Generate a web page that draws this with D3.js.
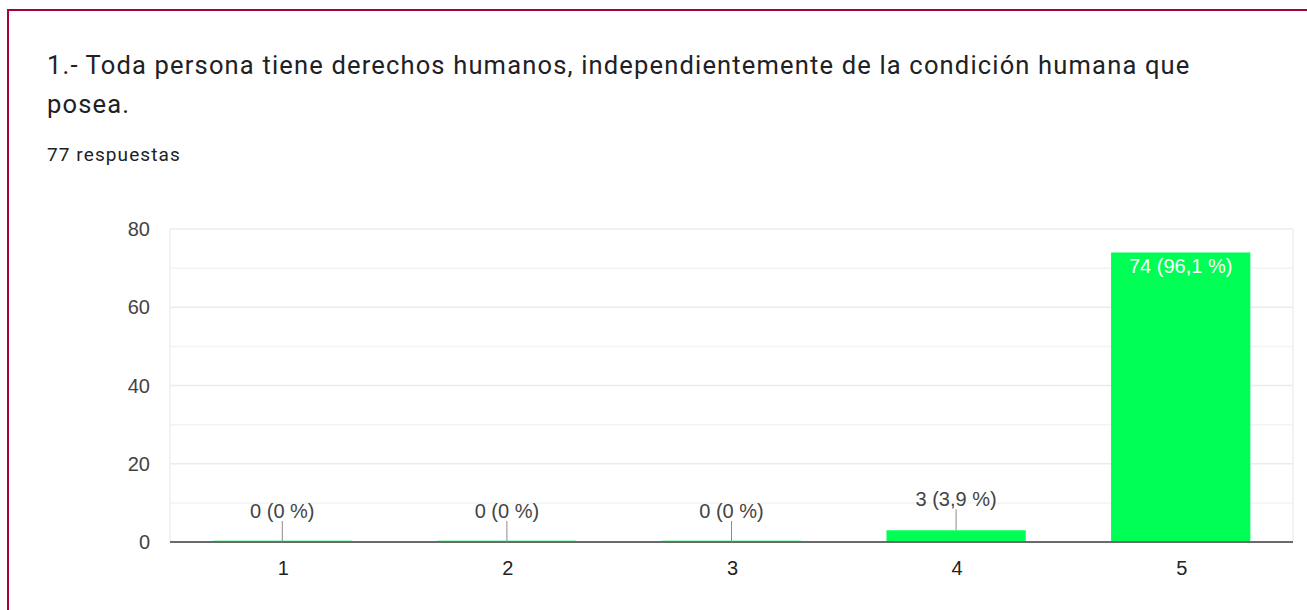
<!DOCTYPE html>
<html>
<head>
<meta charset="utf-8">
<script src="https://cdn.jsdelivr.net/npm/d3@7"></script>
<style>
  html, body { margin: 0; padding: 0; background: #fff; overflow: hidden; }
</style>
</head>
<body>
<div id="chart"></div>
<script>
(function(){
    /* data */
    const categories = ['1', '2', '3', '4', '5'];
    const counts = [0, 0, 0, 3, 74];
    const percents = ['0', '0', '0', '3,9', '96,1'];
    const yTicks = [0, 20, 40, 60, 80];
    const minorTicks = [10, 30, 50, 70];
    const titleLines = [
      '1.- Toda persona tiene derechos humanos, independientemente de la condición humana que',
      'posea.'
    ];
    const subtitle = '77 respuestas';

    /* configuration */
    const W = 1307, H = 610;
    const margin = ({top: 229, right: 14, bottom: 68, left: 170});
    const BAR_COLOR = '#00ff55';
    const LABEL_FONT = 'Liberation Sans, Arial, sans-serif';

    const svg = d3.select('#chart').append('svg')
      .attr('width', W)
      .attr('height', H);

    // card border (only top + left visible)
    svg.append('rect')
      .attr('x', 8).attr('y', 10)
      .attr('width', W + 20).attr('height', H + 20)
      .attr('fill', '#fff')
      .attr('stroke', '#a8003c')
      .attr('stroke-width', 2);

    // title
    svg.selectAll('.title')
      .data(titleLines)
      .join('text')
      .attr('class', 'title')
      .attr('x', 47)
      .attr('y', (d, i) => 74 + i * 39)
      .attr('font-family', 'Roboto, sans-serif')
      .attr('font-size', 25.5)
      .attr('letter-spacing', 1.17)
      .attr('fill', '#202124')
      .text(d => d);

    svg.append('text')
      .attr('x', 47).attr('y', 161)
      .attr('font-family', 'Roboto, sans-serif')
      .attr('font-size', 19)
      .attr('letter-spacing', 1.1)
      .attr('fill', '#202124')
      .text(subtitle);

    // scales
    const xScale = d3.scaleBand()
      .domain(categories)
      .range([margin.left, W - margin.right])
      .paddingInner(0.38)
      .paddingOuter(0.19);
    const yScale = d3.scaleLinear()
      .domain([0, 80])
      .range([H - margin.bottom, margin.top]);

    const x0 = margin.left, x1 = W - margin.right;

    // grid
    svg.selectAll('.minor')
      .data(minorTicks)
      .join('line')
      .attr('x1', x0).attr('x2', x1)
      .attr('y1', d => yScale(d)).attr('y2', d => yScale(d))
      .attr('stroke', '#f3f3f3').attr('stroke-width', 1.5);
    svg.selectAll('.major')
      .data(yTicks.filter(d => d > 0))
      .join('line')
      .attr('x1', x0).attr('x2', x1)
      .attr('y1', d => yScale(d)).attr('y2', d => yScale(d))
      .attr('stroke', '#ebebeb').attr('stroke-width', 1.5);
    // side frame
    [x0, x1].forEach(xx => {
      svg.append('line')
        .attr('x1', xx).attr('x2', xx)
        .attr('y1', yScale(80)).attr('y2', yScale(0))
        .attr('stroke', '#efefef').attr('stroke-width', 1.5);
    });

    // y labels
    svg.selectAll('.ylab')
      .data(yTicks)
      .join('text')
      .attr('x', 150)
      .attr('y', d => yScale(d) + 7)
      .attr('text-anchor', 'end')
      .attr('font-family', LABEL_FONT)
      .attr('font-size', 20)
      .attr('fill', '#444')
      .text(d => d);

    // bars
    const data = categories.map((c, i) => ({cat: c, v: counts[i], p: percents[i]}));
    svg.selectAll('.bar')
      .data(data)
      .join('rect')
      .attr('x', d => xScale(d.cat))
      .attr('width', xScale.bandwidth())
      .attr('y', d => Math.min(yScale(d.v), yScale(0) - 2))
      .attr('height', d => Math.max(yScale(0) - yScale(d.v), 2))
      .attr('fill', BAR_COLOR)
      .attr('opacity', d => d.v > 0 ? 1 : 0.3);

    // baseline
    svg.append('line')
      .attr('x1', x0).attr('x2', x1)
      .attr('y1', yScale(0)).attr('y2', yScale(0))
      .attr('stroke', '#6a6a6a').attr('stroke-width', 2);

    // x labels
    svg.selectAll('.xlab')
      .data(categories)
      .join('text')
      .attr('x', d => xScale(d) + xScale.bandwidth() / 2 + 1)
      .attr('y', yScale(0) + 33)
      .attr('text-anchor', 'middle')
      .attr('font-family', LABEL_FONT)
      .attr('font-size', 20)
      .attr('fill', '#222')
      .text(d => d);

    // annotations
    const inside = d => d.v > 40;
    const outside = data.filter(d => !inside(d));
    svg.selectAll('.leader')
      .data(outside)
      .join('line')
      .attr('x1', d => xScale(d.cat) + xScale.bandwidth() / 2)
      .attr('x2', d => xScale(d.cat) + xScale.bandwidth() / 2)
      .attr('y1', d => yScale(d.v))
      .attr('y2', d => yScale(d.v) - 21)
      .attr('stroke', '#8a8a8a').attr('stroke-width', 1);
    svg.selectAll('.annot')
      .data(data)
      .join('text')
      .attr('x', d => xScale(d.cat) + xScale.bandwidth() / 2)
      .attr('y', d => inside(d) ? yScale(d.v) + 21 : yScale(d.v) - 24)
      .attr('text-anchor', 'middle')
      .attr('font-family', LABEL_FONT)
      .attr('font-size', 20)
      .attr('fill', d => inside(d) ? '#fff' : '#444')
      .text(d => d.v + ' (' + d.p + ' %)');
})();
</script>
</body>
</html>
